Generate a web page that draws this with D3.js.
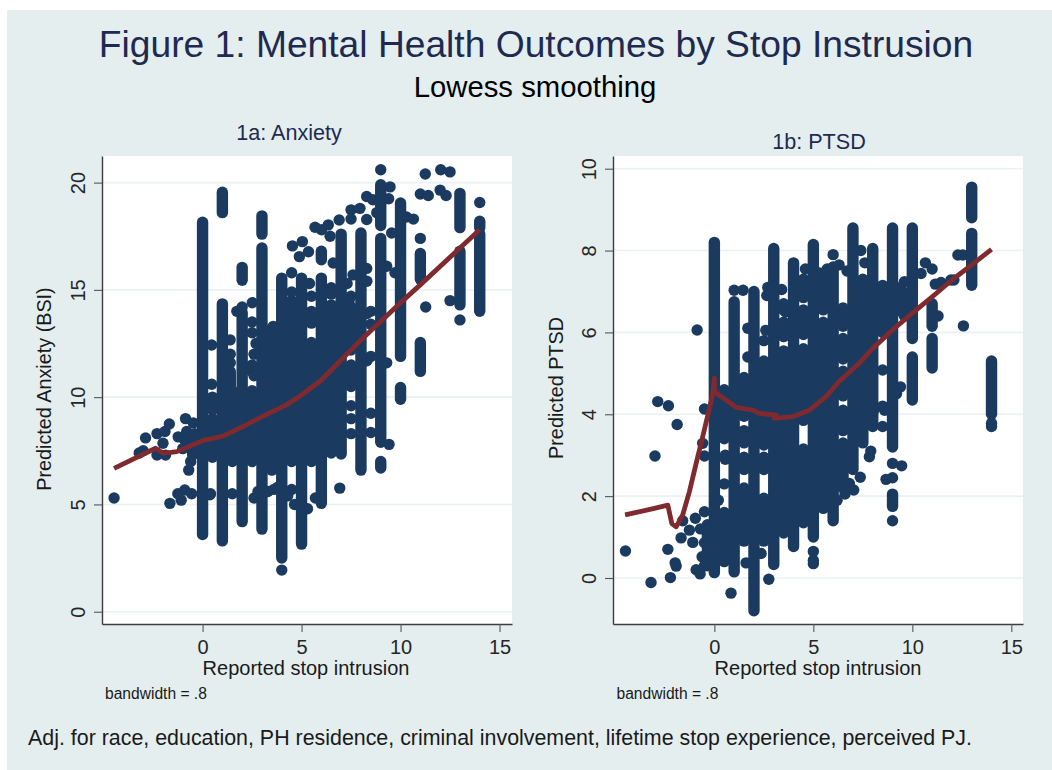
<!DOCTYPE html>
<html><head><meta charset="utf-8">
<script src="https://cdn.jsdelivr.net/npm/d3@7"></script>
<style>
html,body{margin:0;padding:0;background:#fff}
svg{display:block}
text{font-family:"Liberation Sans",Arial,sans-serif}
</style></head><body>
<svg id="c" width="1052" height="770"></svg>
<script>
const mainTitle = "Figure 1: Mental Health Outcomes by Stop Instrusion";
const subTitle = "Lowess smoothing";
const footNote = "Adj. for race, education, PH residence, criminal involvement, lifetime stop experience, perceived PJ.";
const xTicks = [0,5,10,15];
const anxietyTicks = [0,5,10,15,20];
const ptsdTicks = [0,2,4,6,8,10];

// Vertical stacks of overlapping points: [x, lowest y, highest y]
const anxietyStacks = [
 [0,3.6,18.15],[1,18.6,19.55],[1,3.3,14.35],[2,4.2,13.95],[2,15.45,16.05],
 [3,3.85,16.95],[3,17.6,18.45],[4,2.5,15.55],[5,3.15,15.55],[6,5.05,15.55],[6,16.4,16.8],
 [7,7.35,17.6],[8,6.6,17.65],[9,7.9,17.4],[9,18,19.9],[9,6.7,7.0],
 [10,11.9,19.05],[10,9.9,10.45],[11,11.2,12.55],[11,15.5,16.7],
 [13,17.9,19.5],[13,14.3,16.8],[14,14,17.6],[14,17.9,18.2],
 [-0.5,7.3,8.1],[0.5,7.2,9.0],[0.5,9.4,10],[1.5,7,10.3],[1.4,10.5,11.2],[2.5,7,10.3],[2.5,11.2,11.5],
 [3.5,6.6,8.15],[3.5,8.45,12.25],[3.5,12.55,13.2],[4.5,7,9.1],[4.5,9.4,14.5],
 [5.5,7,8.45],[5.5,8.75,12.55],[5.5,13.45,14],[6.5,7.4,8.45],[6.5,8.75,9.85],[6.5,10.15,13.3],[6.5,13.6,14.3],
 [7.5,12.2,14.2],[7.5,10.5,11.5]
];
const anxietyPoints = [
 [-4.47,5.3],[-2.88,8.1],[-2.3,8.3],[-1.9,8.4],[-1.68,8.75],[-0.86,9.0],[-0.47,8.8],[-1.23,8.15],[-3,7.5],[-3.2,7.4],
 [-2,7.85],[-2.3,7.3],[-1.87,7.3],[-0.7,6.6],[-1.65,5.05],[-1.25,5.5],[-1.08,5.2],[-0.9,5.67],[-0.55,5.5],[0.37,5.45],
 [-0.9,8.0],[-0.6,7.0],[-0.8,8.4],[-0.4,8.3],[-1,7.6],
 [6.93,5.76],[9.42,7.8],[4,1.94],[4.54,17.05],[5.04,17.25],[5.35,16.78],[4.89,16.55],[5.68,17.92],[6.01,17.8],[6.35,18.03],
 [6.44,17.5],[6.9,18.26],[7.5,18.73],[7.5,18.3],[7.95,18.8],[8.29,19.35],[8.29,18.28],[8.8,18.6],[8.6,19.2],[9.47,19.8],
 [9.4,19.25],[10.65,18.3],[10.3,18.4],[9.55,17.65],[9.72,15.8],[8.29,16],[6.6,16.25],[9.3,16.1],[8.3,15.4],[7.6,15.7],
 [7.3,15.3],[7.5,14.7],[5.4,15.3],[4.5,15.8],[4.5,14.9],[5.5,14.7],[6.5,14.8],[2.51,14.4],[1.73,14],[2,14.2],[0.46,12.43],[1.39,12.67],[0.46,10.6],[8.3,11.7],
 [9.3,11.6],[8.3,13.9],[8.5,14],[8.5,13.4],[8.5,11.9],[1.4,11.6],[1.4,12],[1.1,11.1],[2.5,11.4],[3.57,13.3],[2.7,12.5],[2.6,12],[2.5,13.5],[2.5,13.0],[2.6,11.0],[6.5,15.1],[7.4,14.5],[8.5,9.25],[8.5,8.35],
 [7.5,8.3],[7.5,9],[7.5,9.6],[0.4,5.5],[1.5,5.5],[2.6,5.3],[2.8,5.6],[3.3,5.6],[3.6,5.7],[3.8,5.8],[4.3,5.4],[4.5,5.7],[4.65,5],
 [5.3,4.8],[5.7,5.3],[9,20.6],[11,19.47],[11.4,19.4],[11.25,20.4],[12.03,20.6],[12.5,20.5],[12,19.65],[12.3,19.4],
 [11.27,14.2],[11,17.4],[12.5,14.5],[13,13.6],[14,19.07]
];
const anxietyLowess = [
 [-4.47,6.68],[-2.37,7.62],[-1.98,7.38],[-1.3,7.46],[0,7.97],[1.05,8.19],[1.98,8.6],[3.01,9.09],[4.24,9.64],[5,10.1],
 [6,10.8],[7,11.73],[8,12.67],[8.97,13.5],[10,14.4],[11.05,15.28],[13,16.95],[14,17.8]
];

const ptsdStacks = [
 [0,0.13,8.2],[1,0.15,6.75],[2,-0.8,7],[3,0.33,8.05],[4,0.77,7.7],[5,1,8.15],[6,1.4,7.6],[7,2.65,8.55],[8,3.7,8.05],
 [9,3.2,8.55],[9,1.75,2.05],[10,5.85,8.55],[10,4.35,5.4],[11,6.15,6.7],[11,5.13,5.85],[13,8.8,9.55],[13,7.15,8.42],[14,4,5.3],
 [-0.35,0.3,1.3],[0.5,0.4,1.6],[0.5,3.4,4.6],[1.5,0.9,2.2],[1.5,2.65,2.95],[1.5,3.3,3.6],[1.5,3.95,4.75],
 [2.5,0.9,1.95],[2.5,2.65,2.95],[2.5,3.25,5.3],[3.5,1.1,5.55],[3.5,5.9,6.25],[3.5,6.55,6.7],
 [4.5,1.35,3.15],[4.5,3.85,5.6],[4.5,5.95,6.55],[4.5,6.85,7.3],[5.5,1.7,6.25],[5.5,6.55,7.4],
 [6.5,2.2,3.3],[6.5,3.6,4.1],[6.5,4.45,5.05],[6.5,5.35,5.85],[6.5,6.15,6.6],[7.5,3.3,7.3],[8.5,6,7],[9.5,6.5,7]
];
const ptsdPoints = [
 [-4.49,0.66],[-3.2,-0.11],[-2.22,0.01],[-2.35,0.7],[-1.98,0.37],[-1.93,0.29],[-1.68,0.98],[-1.6,1.4],[-1.26,1.17],[-1.09,0.87],
 [-0.96,1.46],[-0.5,1.62],[-0.5,0.86],[-0.62,0.52],[-0.92,0.2],[-0.72,0.1],[-0.5,0.3],[-0.7,1.2],[-0.3,1.2],[-0.3,0.4],
 [-3,2.98],[-2.86,4.31],[-2.32,4.21],[-1.88,3.75],[-0.87,6.06],[-0.5,4.13],[-0.59,3.29],[-0.5,2.98],
 [0.84,-0.37],[2.75,-0.03],[1.6,0.37],[2.36,0.6],[0.66,0.7],[7.83,2.96],[7.37,2.46],[7.04,2.15],[6.82,2.31],[8.67,2.41],
 [9.46,2.74],[9,2.45],[9,2.8],[9,1.4],[7.32,3.35],[10.66,7.7],[11,7.55],[10.44,7.44],[11.16,7.18],[11.45,7.22],[11.95,7.28],[12.1,7.28],
 [11.3,6.4],[12.3,7.89],[12.55,7.89],[12.58,6.16],[9.6,7.24],[9.6,6.4],[1,7.03],[1.45,7.03],[14,3.7],[14,3.78],
 [5,0.65],[5,0.43],[5,0.35],[6,7.9],[3,7.1],[2.7,7.1],[3.4,7.05],[2.65,6.9],[2.6,6.05],[1.69,6.1],[1.69,5.4],[2.5,5.8],[3.6,6.5],[3.5,5.9],[4.6,7.55],[5.3,7.45],
 [5.7,7.55],[6.3,7.65],[6.7,7.5],[7.4,8],[7.6,7.7],[8.5,7.15],[9,6.9],[9.4,7.1],[9.5,6.5],[8.5,5.08],[8.5,4.2],[9.4,4.67],[0.5,2.3],[0.2,1.9],[0.55,3],[0.55,2.9],
 [1.5,4.9],[9.2,4.5],[8.6,4.1],[8.05,4.1],[8.5,3.7],[7.9,3.1],[6.6,2.05],[6.2,1.9]
];
const ptsdLowess = [
 [-4.51,1.54],[-3.03,1.7],[-2.35,1.78],[-2.15,1.33],[-1.93,1.25],[-1.6,1.54],[-1.26,2.11],[-0.92,2.8],[-0.59,3.45],[-0.1,4.45],
 [0,4.88],[0,4.55],[1.1,4.17],[1.94,4.1],[2.27,4.02],[3.12,3.98],[3.03,3.9],[3.96,3.94],[4.8,4.1],[5.64,4.43],[6.3,4.8],
 [7.3,5.24],[8,5.61],[9,6.06],[10,6.47],[11,6.87],[12,7.28],[13,7.65],[14,8.03]
];

const BG="#e4eeef", GRID="#eaf2f3", NAVY="#1a3a5f", RED="#7f2a2f", TITLE="#1f2a50", AXIS="#3c3c3c";
const svg=d3.select("#c");
svg.append("rect").attr("x",7).attr("y",10).attr("width",1045).attr("height",760).attr("fill",BG);

function txt(s,x,y,size,fill,anchor,rot){
  const t=svg.append("text").text(s).attr("font-size",size).attr("fill",fill)
    .attr("text-anchor",anchor||"middle").attr("dominant-baseline","central");
  t.attr("transform",`translate(${x},${y})`+(rot?` rotate(${rot})`:""));
  return t;
}
txt(mainTitle,536,44,37.2,TITLE);
txt(subTitle,535,86,29.3,"#000");
txt(footNote,28,738,21.4,"#1a1a1a","start");

function panel(o){
  const L=o.left,R=L+410,T=156,B=624;
  const x=d3.scaleLinear().domain(o.xDomain).range([L,R]);
  const y=d3.scaleLinear().domain(o.yDomain).range([B,T]);
  const g=svg.append("g");
  g.append("rect").attr("x",L).attr("y",T).attr("width",R-L).attr("height",B-T).attr("fill","#fff");
  g.selectAll("line.grid").data(o.yTicks).join("line").attr("class","grid")
    .attr("x1",L).attr("x2",R).attr("y1",d=>y(d)).attr("y2",d=>y(d))
    .attr("stroke",GRID).attr("stroke-width",1.6);
  const r=5.7;
  g.selectAll("line.stack").data(o.stacks).join("line").attr("class","stack")
    .attr("x1",d=>x(d[0])).attr("x2",d=>x(d[0])).attr("y1",d=>y(d[1])).attr("y2",d=>y(d[2]))
    .attr("stroke",NAVY).attr("stroke-width",r*2).attr("stroke-linecap","round");
  g.selectAll("circle").data(o.points).join("circle")
    .attr("cx",d=>x(d[0])).attr("cy",d=>y(d[1])).attr("r",r).attr("fill",NAVY);
  g.append("path").datum(o.lowess).attr("fill","none").attr("stroke",RED).attr("stroke-width",4.8)
    .attr("stroke-linejoin","round").attr("d",d3.line().x(d=>x(d[0])).y(d=>y(d[1])));
  const ay=g.append("g").attr("transform",`translate(${L},0)`)
    .call(d3.axisLeft(y).tickValues(o.yTicks).tickSize(8).tickSizeOuter(0).tickFormat(d3.format("d")));
  const ax=g.append("g").attr("transform",`translate(0,${B})`)
    .call(d3.axisBottom(x).tickValues(xTicks).tickSize(8).tickSizeOuter(0).tickFormat(d3.format("d")));
  [ay,ax].forEach(a=>{
    a.selectAll("path").attr("stroke",AXIS).attr("stroke-width",1.4);
    a.selectAll("line").attr("stroke","#555").attr("stroke-width",1.1);
    a.selectAll("text").attr("font-size",20).attr("fill","#262626").attr("font-family","Liberation Sans");
  });
  ay.selectAll("text").attr("text-anchor","middle").attr("dominant-baseline","central").attr("dy",0).attr("x",0).attr("y",0)
    .attr("transform","translate(-24,0) rotate(-90)");
  ax.selectAll("text").attr("dominant-baseline","central").attr("dy",0).attr("y",23);
  txt(o.title,o.titleX,o.titleY,21.6,TITLE);
  txt(o.yLabel,o.yLabelX,o.yLabelY,19.8,"#1a1a1a","middle",-90);
  txt("Reported stop intrusion",o.xLabelX,668,20,"#1a1a1a");
  txt("bandwidth = .8",o.noteX,693,15.6,"#1a1a1a","start");
}
panel({left:102,xDomain:[-5.08,15.63],yDomain:[-0.573,21.24],yTicks:anxietyTicks,stacks:anxietyStacks,points:anxietyPoints,lowess:anxietyLowess,
  title:"1a: Anxiety",titleX:289,titleY:132,yLabel:"Predicted Anxiety (BSI)",yLabelX:44,yLabelY:389,xLabelX:306,noteX:105});
panel({left:613,xDomain:[-5.12,15.59],yDomain:[-1.124,10.31],yTicks:ptsdTicks,stacks:ptsdStacks,points:ptsdPoints,lowess:ptsdLowess,
  title:"1b: PTSD",titleX:819,titleY:141,yLabel:"Predicted PTSD",yLabelX:556,yLabelY:388,xLabelX:818,noteX:616.5});
</script></body></html>
